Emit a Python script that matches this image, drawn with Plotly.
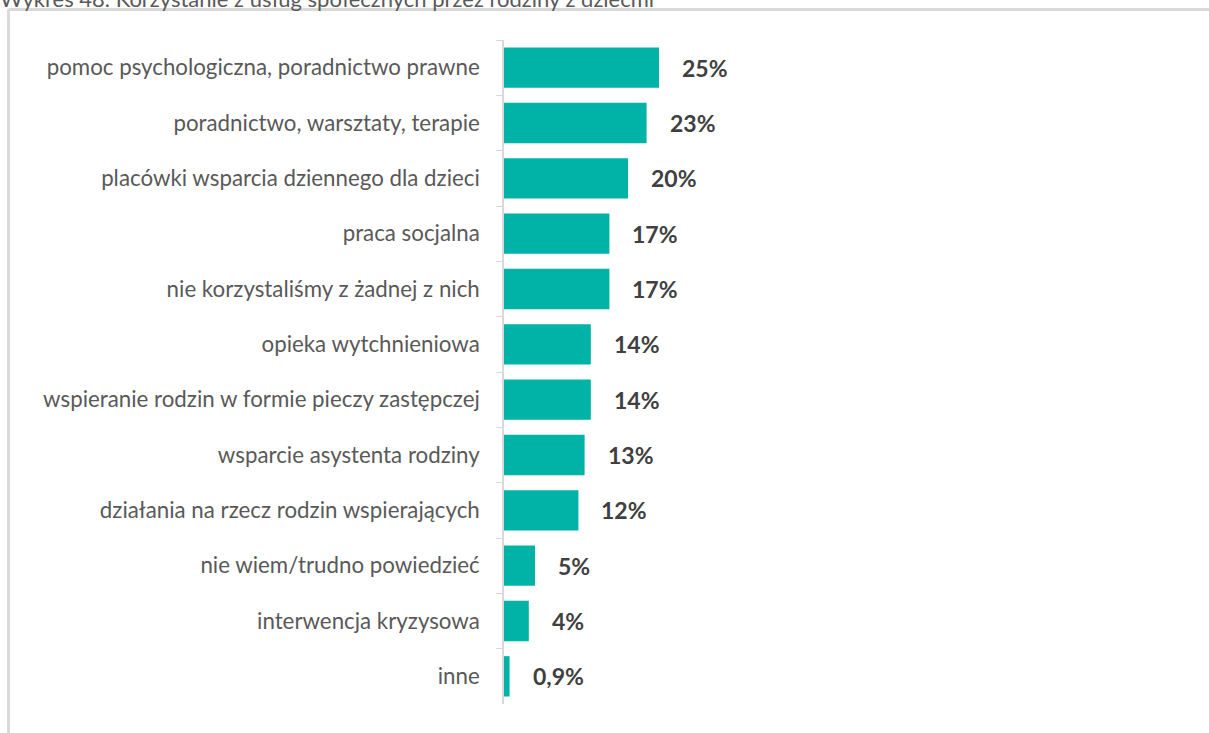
import plotly.graph_objects as go

categories = [
    "pomoc psychologiczna, poradnictwo prawne",
    "poradnictwo, warsztaty, terapie",
    "placówki wsparcia dziennego dla dzieci",
    "praca socjalna",
    "nie korzystaliśmy z żadnej z nich",
    "opieka wytchnieniowa",
    "wspieranie rodzin w formie pieczy zastępczej",
    "wsparcie asystenta rodziny",
    "działania na rzecz rodzin wspierających",
    "nie wiem/trudno powiedzieć",
    "interwencja kryzysowa",
    "inne",
]
values = [25, 23, 20, 17, 17, 14, 14, 13, 12, 5, 4, 0.9]
value_labels = ["25%", "23%", "20%", "17%", "17%", "14%", "14%", "13%", "12%", "5%", "4%", "0,9%"]
title = "Wykres 48. Korzystanie z usług społecznych przez rodziny z dziećmi"

W, H = 1209, 733
ML, MR, MT, MB = 504, 19, 40, 29
pw = W - ML - MR
ph = H - MT - MB

def px_x(p):
    return (p - ML) / pw

def px_y(p):
    return 1 - (p - MT) / ph

FONT = "Lato"

fig = go.Figure()
fig.add_trace(go.Bar(
    x=values, y=categories, orientation="h",
    marker=dict(color="#00B3A6", line=dict(width=0)),
    hoverinfo="skip",
))

for c, v, t in zip(categories, values, value_labels):
    fig.add_annotation(x=v, y=c, text="<b>%s</b>" % t, showarrow=False,
                       xanchor="left", xshift=21,
                       font=dict(family=FONT, size=23, color="#404040"))

# title, cut off at the top of the picture
fig.add_annotation(x=px_x(-2), y=px_y(-2), xref="paper", yref="paper",
                   text=title, showarrow=False, xanchor="left", yanchor="middle",
                   font=dict(family=FONT, size=22, color="#595959"))

# chart frame
line = dict(color="#d9d9d9", width=3)
fig.add_shape(type="line", xref="paper", yref="paper",
              x0=px_x(8.5), x1=px_x(W + 5), y0=px_y(9.5), y1=px_y(9.5), line=line)
fig.add_shape(type="line", xref="paper", yref="paper",
              x0=px_x(8.5), x1=px_x(8.5), y0=px_y(9.5), y1=px_y(H + 5), line=line)

fig.update_xaxes(range=[0, pw / 6.2], visible=False)
fig.update_yaxes(autorange="reversed", showline=True, linecolor="#d9d9d9", linewidth=1.5,
                 ticks="outside", tickson="boundaries", ticklen=6, tickcolor="#d9d9d9",
                 ticklabelstandoff=18,
                 tickfont=dict(family=FONT, size=22.3, color="#595959"))

fig.update_layout(
    width=W, height=H,
    margin=dict(l=ML, r=MR, t=MT, b=MB),
    paper_bgcolor="white", plot_bgcolor="white",
    bargap=0.27, showlegend=False,
)

fig.write_html("out.html", config={"displayModeBar": False},
               post_script="document.body.style.margin='0px';")
